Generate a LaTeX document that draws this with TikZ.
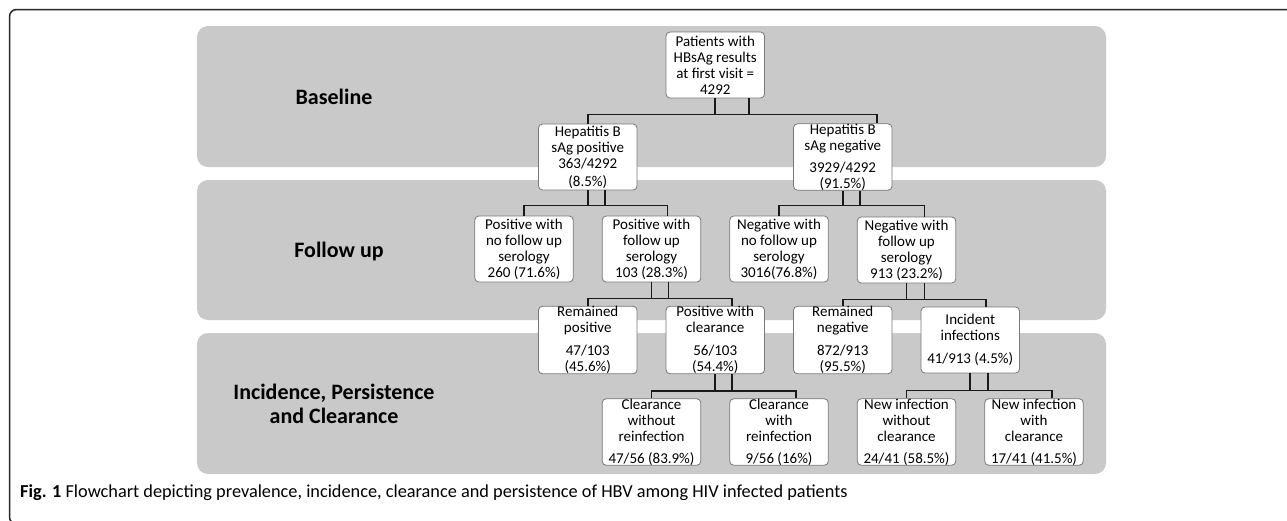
\documentclass[tikz,border=0pt]{standalone}
\usepackage{fontspec}
\setmainfont{Carlito}
\definecolor{bandgray}{RGB}{201,201,201}
\definecolor{boxgray}{RGB}{120,120,120}
\definecolor{linecol}{RGB}{25,25,25}
\begin{document}
\begin{tikzpicture}[x=1pt,y=-1pt,
  band/.style={fill=bandgray,rounded corners=11pt},
  lab/.style={font=\fontsize{22}{24}\selectfont\bfseries,align=center,text=black},
  box/.style={draw=boxgray,fill=white,rounded corners=4pt,line width=0.8pt,
    minimum width=98.5pt,minimum height=66pt,inner sep=0pt,align=center,
    font=\fontsize{15}{16}\selectfont},
  conn/.style={draw=linecol,line width=1.7pt},
  frame/.style={draw=black!85,line width=1.5pt,rounded corners=7pt}]
\useasboundingbox (0,0) rectangle (1287,520);
\clip (0,0) rectangle (1287,520);
% outer frame
\draw[frame] (1300,9.5) -- (9.5,9.5) -- (9.5,524) -- (60,524);
% bands
\path[band] (197,26) rectangle (1106,167);
\path[band] (197,180) rectangle (1106,320);
\path[band] (197,333) rectangle (1106,474);
% band labels
\node[lab] (lb1) at (334,97) {Baseline};
\node[lab] (lb2) at (339,252) {Follow up};
\node[lab] (lb3) at (334,404) {Incidence, Persistence\\and Clearance};
% boxes
\node[box] (root) at (715.25,65) {Patients with\\HBsAg results\\at first visit =\\4292};
\node[box] (hp) at (587.75,157) {Hepatitis B\\sAg positive\\363/4292\\[2pt](8.5\%)};
\node[box] (hn) at (842.75,157) {Hepatitis B\\sAg negative\\[6pt]3929/4292\\(91.5\%)};
\node[box] (pnf) at (524,249) {Positive with\\no follow up\\serology\\260 (71.6\%)};
\node[box] (pf) at (651.5,249) {Positive with\\follow up\\serology\\103 (28.3\%)};
\node[box] (nnf) at (779,249) {Negative with\\no follow up\\serology\\3016(76.8\%)};
\node[box] (nf) at (906.5,250) {Negative with\\follow up\\serology\\913 (23.2\%)};
\node[box] (rp) at (587.75,340) {Remained\\positive\\[7pt]47/103\\(45.6\%)};
\node[box] (pc) at (715.25,340) {Positive with\\clearance\\[7pt]56/103\\(54.4\%)};
\node[box] (rn) at (842.75,340) {Remained\\negative\\[7pt]872/913\\(95.5\%)};
\node[box] (inc) at (970.25,340) {Incident\\infections\\[7pt]41/913 (4.5\%)};
\node[box] (cwo) at (651.5,432) {Clearance\\without\\reinfection\\[6pt]47/56 (83.9\%)};
\node[box] (cw) at (779,432) {Clearance\\with\\reinfection\\[6pt]9/56 (16\%)};
\node[box] (niwo) at (906.5,432) {New infection\\without\\clearance\\[6pt]24/41 (58.5\%)};
\node[box] (niw) at (1034,432) {New infection\\with\\clearance\\[6pt]17/41 (41.5\%)};
% connectors
\draw[conn] (root.south) -- ++(0,16) coordinate (j0) -| (hp.north);
\draw[conn] (j0) -| ([xshift=34pt]hn.north);
\draw[conn] ([xshift=34pt]root.south) |- (j0);

\draw[conn] (hp.south) -- ++(0,15) coordinate (j1) -| (pnf.north);
\draw[conn] (j1) -| ([xshift=16pt]pf.north);
\draw[conn] ([xshift=17pt]hp.south) |- (j1);

\draw[conn] (hn.south) -- ++(0,15) coordinate (j2) -| (nnf.north);
\draw[conn] (j2) -| ([xshift=18pt]nf.north);
\draw[conn] ([xshift=17pt]hn.south) |- (j2);

\draw[conn] (pf.south) -- ++(0,16) coordinate (j3) -| (rp.north);
\draw[conn] (j3) -| ([xshift=17pt]pc.north);
\draw[conn] ([xshift=17pt]pf.south) |- (j3);

\draw[conn] (nf.south) -- ++(0,16) coordinate (j4) -| (rn.north);
\draw[conn] (j4) -| ([xshift=16pt]inc.north);
\draw[conn] ([xshift=18pt]nf.south) |- (j4);

\draw[conn] (pc.south) -- ++(0,17) coordinate (j5) -| (cwo.north);
\draw[conn] (j5) -| ([xshift=17pt]cw.north);
\draw[conn] ([xshift=17pt]pc.south) |- (j5);

\draw[conn] (inc.south) -- ++(0,17) coordinate (j6) -| (niwo.north);
\draw[conn] (j6) -| ([xshift=18pt]niw.north);
\draw[conn] ([xshift=18pt]inc.south) |- (j6);
% caption
\node[anchor=west,inner sep=0pt,font=\fontsize{18.3}{22}\selectfont] (cap) at (20,493)
  {\textbf{Fig. 1} Flowchart depicting prevalence, incidence, clearance and persistence of HBV among HIV infected patients};
\end{tikzpicture}
\end{document}
